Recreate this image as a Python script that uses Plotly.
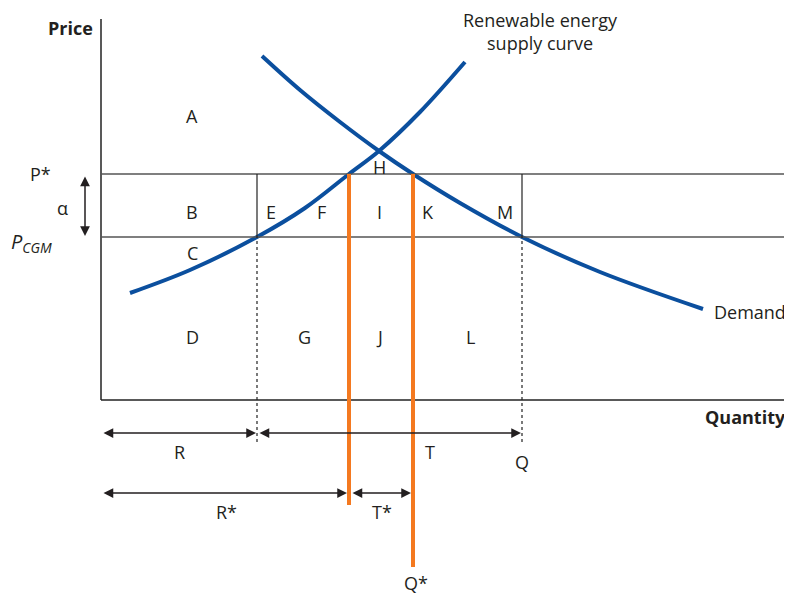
import plotly.graph_objects as go

# Diagram coordinates: quantity to the right of the price axis, price above the quantity axis
supply_q = [29, 89, 156, 204, 248, 278, 319, 364]
supply_p = [107, 130, 163, 192, 226, 249, 288, 338]

demand_q = [161, 199, 239, 278, 312, 359, 421, 499, 602]
demand_p = [344, 310, 278, 249, 226, 197, 163, 128, 91]

p_star = 226
p_cgm = 163
q_r = 156      # R
q_rstar = 248  # R*
q_tstar = 312  # Q*
q_total = 421  # Q

area_labels = ['A', 'B', 'C', 'D', 'E', 'F', 'G', 'H', 'I', 'J', 'K', 'L', 'M']
area_q = [91, 91, 91, 91, 170, 220, 203, 278, 278, 278, 327, 369, 404]
area_p = [284, 188, 147, 63, 188, 188, 63, 233, 188, 63, 188, 63, 188]

fig = go.Figure()

fig.add_trace(go.Scatter(x=supply_q, y=supply_p, mode='lines',
                         line=dict(color='#0b4f9e', width=4, shape='spline'), hoverinfo='skip'))
fig.add_trace(go.Scatter(x=demand_q, y=demand_p, mode='lines',
                         line=dict(color='#0b4f9e', width=4, shape='spline'), hoverinfo='skip'))

shapes = []
axis_line = dict(color='#222222', width=1.5)
grey_line = dict(color='#555555', width=1.5)
# axes
shapes.append(dict(type='line', x0=0, x1=0, y0=0, y1=381, line=axis_line))
shapes.append(dict(type='line', x0=0, x1=690, y0=0, y1=0, line=axis_line))
# price lines
shapes.append(dict(type='line', x0=0, x1=690, y0=p_star, y1=p_star, line=grey_line))
shapes.append(dict(type='line', x0=0, x1=690, y0=p_cgm, y1=p_cgm, line=grey_line))
# box sides
for q in [q_r, q_total]:
    shapes.append(dict(type='line', x0=q, x1=q, y0=p_cgm, y1=p_star, line=dict(color='#222222', width=1.2)))
    shapes.append(dict(type='line', x0=q, x1=q, y0=-42, y1=p_cgm,
                       line=dict(color='#222222', width=1.2, dash='dot')))
# orange quantity lines
shapes.append(dict(type='line', x0=q_rstar, x1=q_rstar, y0=-105, y1=p_star, line=dict(color='#f47920', width=4)))
shapes.append(dict(type='line', x0=q_tstar, x1=q_tstar, y0=-167, y1=p_star, line=dict(color='#f47920', width=4)))

annotations = []
font = dict(family='Open Sans', size=18, color='#231f20')


def dbl_arrow(x0, y0, x1, y1):
    annotations.append(dict(x=x1, y=y1, ax=x0, ay=y0, xref='x', yref='y', axref='x', ayref='y',
                            text='', showarrow=True, arrowhead=2, startarrowhead=2,
                            arrowside='end+start', arrowsize=1.3, startarrowsize=1.3,
                            arrowwidth=1.5, arrowcolor='#231f20', standoff=0, startstandoff=0))


dbl_arrow(1, -33, q_r - 1, -33)
dbl_arrow(q_r + 1, -33, q_total - 1, -33)
dbl_arrow(1, -93, q_rstar - 2, -93)
dbl_arrow(q_rstar + 2, -93, q_tstar - 2, -93)
dbl_arrow(-16, p_star - 1, -16, p_cgm + 1)

for t, q, p in zip(area_labels, area_q, area_p):
    annotations.append(dict(x=q, y=p, text=t, showarrow=False, font=font))

other_text = [
    ('R', 78, -52), ('T', 329, -52), ('Q', 421, -62),
    ('R*', 125, -112), ('T*', 281, -112), ('Q*', 315, -183),
    ('P*', -61, p_star), ('α', -39, 192),
    ('Demand', 649, 88),
]
for t, q, p in other_text:
    annotations.append(dict(x=q, y=p, text=t, showarrow=False, font=font))

annotations.append(dict(x=-70, y=158, text='<i>P<sub>CGM</sub></i>', showarrow=False,
                        font=dict(family='Open Sans', size=20, color='#231f20')))
annotations.append(dict(x=-31, y=372, text='<b>Price</b>', showarrow=False, font=font))
annotations.append(dict(x=644, y=-17, text='<b>Quantity</b>', showarrow=False, font=font))
annotations.append(dict(x=439, y=369, text='Renewable energy<br>supply curve', showarrow=False,
                        font=font, align='center'))

# the page body adds an 8px offset, so the figure is 8px smaller and the ranges shifted
fig.update_layout(
    width=784, height=586,
    margin=dict(l=0, r=0, t=0, b=0),
    plot_bgcolor='white', paper_bgcolor='white',
    showlegend=False,
    shapes=shapes,
    annotations=annotations,
    xaxis=dict(range=[-93, 691], visible=False, fixedrange=True),
    yaxis=dict(range=[-194, 392], visible=False, fixedrange=True),
)

fig.write_html("out.html")
